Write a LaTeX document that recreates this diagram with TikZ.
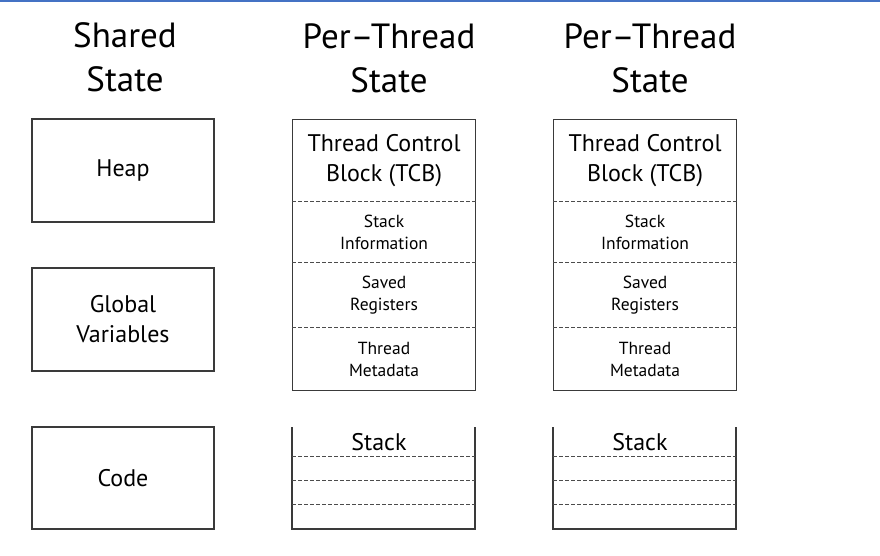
\documentclass[tikz,border=0pt]{standalone}
\usepackage{fontspec}
\setmainfont{PT Sans}
\definecolor{topband}{HTML}{4472C4}
\definecolor{edge}{HTML}{3A3A3A}
\begin{document}
\begin{tikzpicture}[x=1pt,y=-1pt,
  frame/.style={draw=edge, line width=1.1pt},
  region/.style={frame, minimum width=182pt, inner sep=0pt, align=center,
                 font=\fontsize{24}{30}\selectfont},
  title/.style={align=center, inner sep=0pt, font=\fontsize{35}{44}\selectfont},
  part/.style={minimum width=183pt, inner sep=0pt, align=center},
  bigtext/.style={font=\fontsize{24}{30}\selectfont},
  smalltext/.style={font=\fontsize{17.5}{22}\selectfont},
  divider/.style={draw=black!70, line width=1pt, dash pattern=on 3.5pt off 2.5pt}
]
\useasboundingbox (0,0) rectangle (880,556);
\fill[topband] (0,0) rectangle (880,2.2);

% column headings
\node[title] (hshared) at (125,57.5) {Shared\\State};
\node[title] (hthreadA) at (389,58) {Per–Thread\\State};
\node[title] (hthreadB) at (650,58) {Per–Thread\\State};

% shared state
\node[region, minimum height=103pt] (heap) at (123,170.5) {Heap};
\node[region, minimum height=103pt] (globals) at (123,319.5) {Global\\Variables};
\node[region, minimum height=102pt] (code) at (123,478) {Code};

% per-thread state: TCB and stack for each thread
\foreach \c/\x in {a/292, b/553} {
  \node[frame, minimum width=183pt, minimum height=271pt, inner sep=0pt,
        anchor=north west] (\c-tcb) at (\x,119) {};
  \node[part, bigtext, minimum height=82pt, anchor=north] (\c-head) at (\c-tcb.north)
    {Thread Control\\Block (TCB)};
  \node[part, smalltext, minimum height=61pt, anchor=north] (\c-info) at (\c-head.south)
    {Stack\\Information};
  \node[part, smalltext, minimum height=64pt, anchor=north] (\c-regs) at (\c-info.south)
    {Saved\\Registers};
  \node[part, smalltext, minimum height=64pt, anchor=north] (\c-meta) at (\c-regs.south)
    {Thread\\Metadata};
  \draw[divider] (\c-head.south west) -- (\c-head.south east);
  \draw[divider] (\c-info.south west) -- (\c-info.south east);
  \draw[divider] (\c-regs.south west) -- (\c-regs.south east);

  % stack: open at the top
  \coordinate (\c-stl) at (\x,427);
  \coordinate (\c-sbl) at (\x,529);
  \coordinate (\c-sbr) at (\x+183,529);
  \coordinate (\c-str) at (\x+183,427);
  \draw[frame] (\c-stl) -- (\c-sbl) -- (\c-sbr) -- (\c-str);
  \node[inner sep=0pt, bigtext] (\c-stack) at (\x+87,442) {Stack};
  \foreach \y/\k in {456/1, 480/2, 504/3} {
    \coordinate (\c-sl\k) at (\x,\y);
    \coordinate (\c-sr\k) at (\x+183,\y);
    \draw[divider] (\c-sl\k) -- (\c-sr\k);
  }
}
\end{tikzpicture}
\end{document}
